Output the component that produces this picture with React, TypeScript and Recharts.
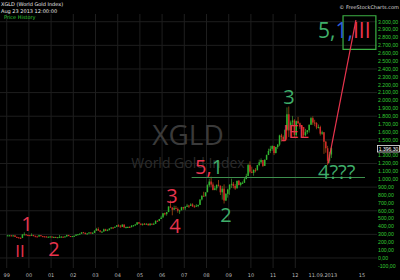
import React from 'react';
import {
  ComposedChart, Bar, Line, XAxis, YAxis, CartesianGrid,
  ReferenceLine, ReferenceArea,
} from 'recharts';

// monthly XGLD bars, Jan 1999 .. Aug 2013
const START_YEAR = 1999;
const FIRST_OPEN = 287;

const closes = [
  287, 287, 280, 286, 268, 262, 255, 254, 299, 300, 292, 290, // 1999
  283, 293, 277, 274, 272, 289, 277, 274, 273, 265, 270, 273, // 2000
  265, 267, 258, 264, 268, 270, 266, 273, 293, 279, 274, 278, // 2001
  282, 297, 301, 309, 326, 318, 305, 311, 324, 317, 319, 347, // 2002
  368, 348, 334, 336, 364, 346, 354, 375, 388, 384, 397, 416, // 2003
  400, 396, 424, 388, 394, 394, 391, 409, 416, 425, 453, 438, // 2004
  422, 435, 428, 435, 415, 437, 430, 434, 473, 470, 495, 513, // 2005
  568, 557, 582, 654, 643, 613, 633, 623, 599, 604, 646, 632, // 2006
  650, 665, 662, 680, 655, 650, 665, 673, 743, 790, 783, 834, // 2007
  923, 971, 933, 864, 885, 930, 918, 834, 880, 730, 814, 870, // 2008
  928, 942, 916, 883, 980, 927, 955, 955, 1001, 1040, 1180, 1096, // 2009
  1081, 1119, 1113, 1180, 1215, 1244, 1169, 1248, 1307, 1359, 1386, 1421, // 2010
  1332, 1409, 1439, 1556, 1536, 1500, 1628, 1825, 1620, 1722, 1746, 1563, // 2011
  1737, 1711, 1668, 1663, 1558, 1598, 1622, 1692, 1776, 1720, 1713, 1657, // 2012
  1663, 1578, 1596, 1476, 1393, 1234, 1314, 1396, // 2013
];

const highs = [
  294, 293, 291, 292, 290, 271, 264, 263, 301, 326, 300, 296,
  291, 313, 294, 286, 283, 295, 292, 280, 278, 275, 272, 275,
  272, 272, 270, 266, 293, 279, 273, 280, 295, 293, 279, 280,
  284, 302, 305, 311, 327, 331, 324, 317, 328, 325, 328, 350,
  382, 389, 354, 337, 373, 371, 366, 375, 390, 391, 399, 417,
  428, 420, 428, 427, 399, 400, 403, 418, 418, 433, 455, 457,
  429, 437, 444, 441, 436, 441, 433, 448, 476, 477, 497, 537,
  569, 576, 585, 654, 730, 629, 664, 662, 641, 613, 650, 649,
  657, 687, 675, 695, 694, 671, 683, 678, 744, 794, 841, 835,
  935, 1005, 1033, 960, 917, 931, 990, 920, 915, 935, 825, 880,
  938, 1007, 965, 939, 981, 990, 965, 972, 1019, 1070, 1195, 1227,
  1160, 1125, 1141, 1182, 1249, 1265, 1215, 1250, 1313, 1388, 1424, 1431,
  1424, 1412, 1448, 1565, 1577, 1556, 1632, 1912, 1923, 1745, 1804, 1763,
  1745, 1791, 1720, 1680, 1640, 1640, 1625, 1694, 1790, 1798, 1755, 1725,
  1695, 1680, 1617, 1600, 1487, 1424, 1348, 1420,
];

const lows = [
  284, 282, 278, 279, 267, 256, 252, 252, 253, 291, 289, 277,
  282, 283, 277, 271, 270, 272, 276, 269, 270, 264, 263, 268,
  262, 255, 256, 256, 263, 266, 265, 264, 271, 277, 272, 271,
  278, 280, 291, 299, 306, 316, 300, 301, 311, 310, 315, 316,
  347, 344, 325, 319, 337, 341, 345, 352, 367, 370, 381, 396,
  398, 391, 395, 386, 375, 381, 389, 390, 399, 413, 419, 432,
  420, 411, 425, 425, 414, 414, 418, 429, 435, 460, 467, 495,
  529, 541, 537, 585, 637, 542, 613, 623, 575, 560, 618, 612,
  607, 648, 635, 661, 650, 642, 663, 645, 680, 731, 785, 785,
  850, 902, 904, 859, 860, 858, 907, 800, 741, 692, 723, 766,
  802, 890, 885, 865, 891, 921, 908, 940, 953, 1008, 1045, 1075,
  1077, 1045, 1088, 1116, 1165, 1201, 1156, 1174, 1244, 1315, 1332, 1360,
  1307, 1329, 1386, 1420, 1479, 1493, 1482, 1613, 1536, 1595, 1678, 1532,
  1540, 1700, 1639, 1612, 1527, 1545, 1572, 1592, 1690, 1691, 1673, 1635,
  1645, 1555, 1564, 1322, 1337, 1180, 1208, 1270,
];

// hand-drawn projection from the 2013 low into the target box
const projTimes = [2013.48, 2014.73];
const projValues = [1200, 3020];

const supportLevel = 1022;
const lastPrice = '1.396,30';

const yearTicks = [1999, 2000, 2001, 2002, 2003, 2004, 2005, 2006, 2007, 2008, 2009, 2010, 2011, 2012, 2013.69, 2015];
const yearLabels = ['99', '00', '01', '02', '03', '04', '05', '06', '07', '08', '09', '10', '11', '12', '11.09.2013', '15'];

const priceTicks: number[] = [];
for (let v = -100; v <= 3000; v += 100) priceTicks.push(v);
const gridValues = [0, 300, 600, 900, 1200, 1500, 1800, 2100, 2400, 2700, 3000];

const GREEN = '#2fb52f';
const RED = '#d4282c';
const TXT_RED = '#e8344e';
const TXT_GREEN = '#3fae6a';
const TXT_BLUE = '#2f5fd8';

const rows = closes.map((c, i) => ({
  t: START_YEAR + (i + 0.5) / 12,
  open: i === 0 ? FIRST_OPEN : closes[i - 1],
  close: c,
  low: lows[i],
  high: highs[i],
  range: [lows[i], highs[i]],
}));

const projData = projTimes.map((t, i) => ({ t, v: projValues[i] }));

function fmtPrice(v: number) {
  const neg = v < 0;
  const s = Math.abs(v).toFixed(0);
  const withDots = s.replace(/\B(?=(\d{3})+(?!\d))/g, '.');
  return (neg ? '-' : '') + withDots + ',00';
}

function Candle(props: any) {
  const { x, y, width, height, payload } = props;
  if (!payload) return null;
  const { open, close, low, high } = payload;
  const span = high - low || 1;
  const toY = (v: number) => y + ((high - v) / span) * height;
  const up = close >= open;
  const color = up ? GREEN : RED;
  const cx = x + width / 2;
  const top = toY(Math.max(open, close));
  const bot = toY(Math.min(open, close));
  return (
    <g>
      <rect x={cx - 0.4} y={y} width={0.8} height={Math.max(height, 1)} fill={up ? '#3a8a2a' : '#a04a10'} />
      <rect x={cx - 0.75} y={top} width={1.5} height={Math.max(bot - top, 1)} fill={color} />
    </g>
  );
}

function XTick(props: any) {
  const { x, payload } = props;
  const idx = yearTicks.indexOf(payload.value);
  const label = idx >= 0 ? yearLabels[idx] : '';
  const dx = label.length > 4 ? -10 : 0;
  return (
    <text x={x + dx} y={277} textAnchor="middle" fontSize={5} fill="#bbbbbb" fontFamily="DejaVu Sans">
      {label}
    </text>
  );
}

const annoFont = 'Open Sans';

export default function App() {
  return (
    <div style={{ position: 'absolute', left: 0, top: 0, width: 400, height: 280, background: '#000', overflow: 'hidden' }}>
      <ComposedChart width={400} height={280} data={rows} margin={{ top: 14, right: 0, bottom: 0, left: 0 }}>
        <CartesianGrid stroke="#1e1e1e" horizontalValues={gridValues} verticalValues={yearTicks.slice(0, 14)} />
        <XAxis
          dataKey="t"
          type="number"
          domain={[1998.698, 2015.68]}
          ticks={yearTicks}
          interval={0}
          height={12}
          axisLine={false}
          tickLine={false}
          tick={<XTick />}
          allowDataOverflow
        />
        <YAxis
          orientation="right"
          type="number"
          domain={[-127, 3098]}
          ticks={priceTicks}
          interval={0}
          width={23}
          axisLine={false}
          tickLine={false}
          tickSize={0}
          tickMargin={1}
          tickFormatter={fmtPrice}
          tick={{ fontSize: 5.2, fill: '#33cc33', fontFamily: 'Liberation Sans', textAnchor: 'start' }}
          allowDataOverflow
        />
        <Bar dataKey="range" barSize={2} shape={<Candle />} isAnimationActive={false} />
        <ReferenceLine
          segment={[{ x: 2007.33, y: supportLevel }, { x: 2015.14, y: supportLevel }]}
          stroke="#3d8f4d"
          strokeWidth={1}
          ifOverflow="extendDomain"
        />
        <ReferenceArea x1={2014.15} x2={2015.63} y1={2650} y2={3076} fill="none" stroke="#3cb044" strokeWidth={1.2} />
        <Line data={projData} dataKey="v" stroke={TXT_RED} strokeWidth={1.2} dot={false} isAnimationActive={false} />
      </ComposedChart>

      <svg width={400} height={280} style={{ position: 'absolute', left: 0, top: 0, pointerEvents: 'none' }}>
        <g fontFamily="DejaVu Sans" fontSize={5}>
          <text x={1} y={5.5} fill="#e8e8e8">XGLD (World Gold Index)</text>
          <text x={1} y={12.5} fill="#e8e8e8">Aug 23 2013 12:00:00</text>
          <text x={4} y={18.5} fill="#33cc33">Price History</text>
          <text x={399} y={8.5} fill="#dddddd" textAnchor="end">© FreeStockCharts.com</text>
        </g>
        <rect x={377.5} y={145.5} width={22} height={6.5} fill="#000" stroke="#eeeeee" strokeWidth={0.8} />
        <text x={388.5} y={150.7} fontSize={5} fill="#ffffff" textAnchor="middle" fontFamily="Liberation Sans">{lastPrice}</text>

        <text x={188} y={145} fontSize={28} fill="#3a3a3a" textAnchor="middle" fontFamily={annoFont}>XGLD</text>
        <text x={188} y={168} fontSize={14} fill="#2c2c2c" textAnchor="middle" fontFamily={annoFont}>World Gold Index</text>

        <g fontFamily={annoFont} fontSize={20}>
          <text x={27} y={231} fill={TXT_RED} textAnchor="middle">1</text>
          <text x={20} y={257} fill={TXT_RED} textAnchor="middle" fontSize={17}>II</text>
          <text x={54} y={256} fill={TXT_RED} textAnchor="middle">2</text>
          <text x={172} y={203} fill={TXT_RED} textAnchor="middle">3</text>
          <text x={175} y={233} fill={TXT_RED} textAnchor="middle">4</text>
          <text x={195} y={174}>
            <tspan fill={TXT_RED}>5,</tspan>
            <tspan fill={TXT_GREEN}>1</tspan>
          </text>
          <text x={226} y={222} fill={TXT_GREEN} textAnchor="middle">2</text>
          <text x={289} y={104} fill={TXT_GREEN} textAnchor="middle">3</text>
          <text x={296} y={138} fill={TXT_RED} textAnchor="middle" fontSize={19}>JEL</text>
          <text x={318} y={179} fill={TXT_GREEN}>4???</text>
          <text x={318} y={38} fontSize={21}>
            <tspan fill={TXT_GREEN}>5,</tspan>
            <tspan fill={TXT_BLUE}>1,</tspan>
            <tspan fill={TXT_RED}>III</tspan>
          </text>
        </g>
      </svg>
    </div>
  );
}
